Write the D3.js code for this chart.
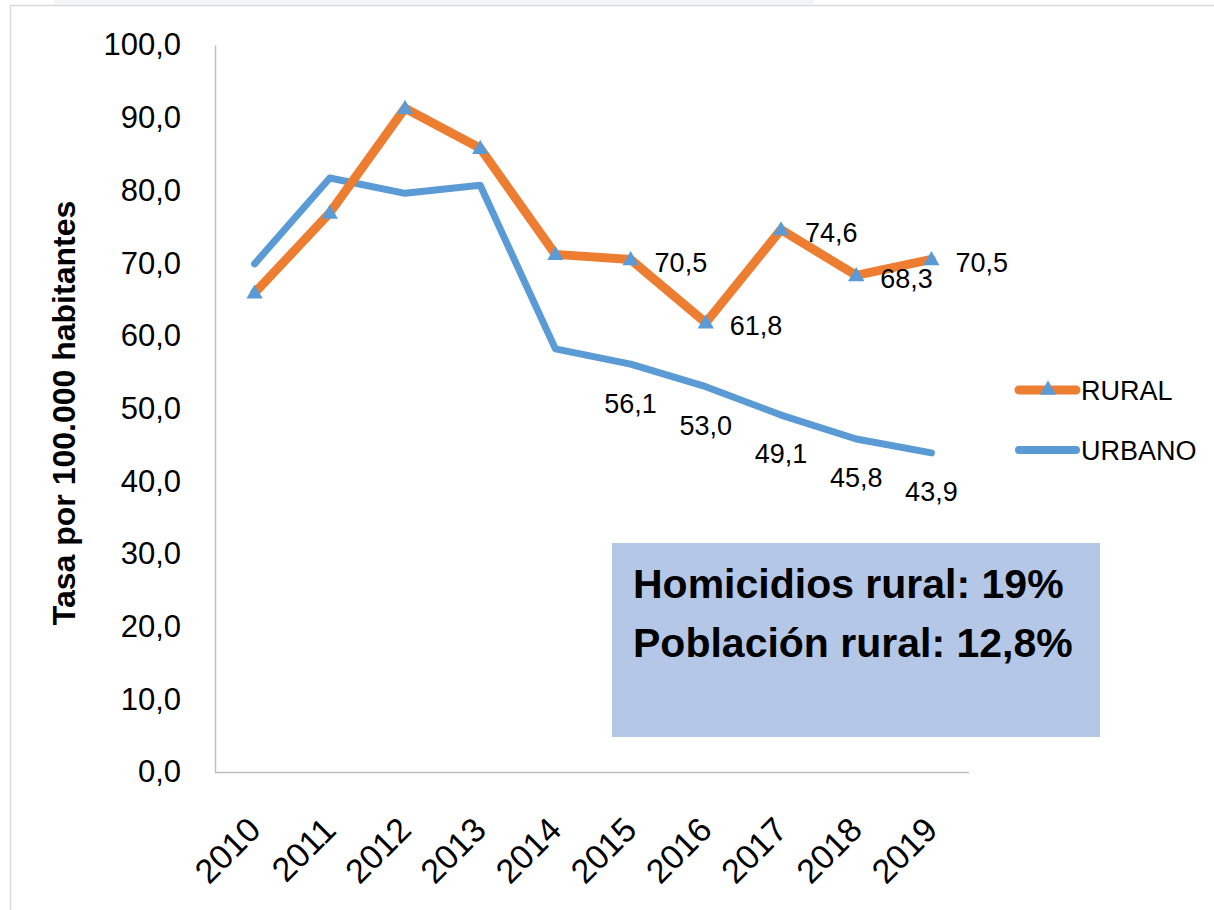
<!DOCTYPE html>
<html>
<head>
<meta charset="utf-8">
<script src="https://cdn.jsdelivr.net/npm/d3@7"></script>
<style>
  html, body { margin: 0; padding: 0; background: #fff; }
  svg { display: block; }
  text { font-family: "Liberation Sans", Arial, sans-serif; fill: #000; }
</style>
</head>
<body>
<svg id="chart" width="1214" height="910"></svg>
<script>
// Homicide rate per 100,000 inhabitants, rural vs urban
const years = ["2010", "2011", "2012", "2013", "2014", "2015", "2016", "2017", "2018", "2019"];
const rural = [65.9, 76.9, 91.3, 85.8, 71.2, 70.5, 61.8, 74.6, 68.3, 70.5];
const urbano = [69.9, 81.7, 79.6, 80.7, 58.2, 56.1, 53.0, 49.1, 45.8, 43.9];
const labelledYears = ["2015", "2016", "2017", "2018", "2019"];
const yTicks = [0, 10, 20, 30, 40, 50, 60, 70, 80, 90, 100];
const seriesNames = ["RURAL", "URBANO"];
const noteLines = ["Homicidios rural: 19%", "Población rural: 12,8%"];
const yTitle = "Tasa por 100.000 habitantes";

const ORANGE = "#ed7d31", BLUE = "#5b9bd5", AXIS = "#bfbfbf";
const svg = d3.select("#chart");

// outer frame
svg.append("rect").attr("x", 54).attr("y", 0).attr("width", 760).attr("height", 4).attr("fill", "#f3f4f6");
svg.append("path").attr("d", "M10.5,912 V5.5 H1216").attr("fill", "none").attr("stroke", "#d9d9d9").attr("stroke-width", 1.5);

const x = d3.scaleBand().domain(years).range([217, 969]);
const y = d3.scaleLinear().domain([0, 100]).range([772, 45]);
const cx = d => x(d) + x.bandwidth() / 2;

// y axis
const yAxis = svg.append("g").attr("transform", "translate(215,0)")
  .call(d3.axisLeft(y).tickValues(yTicks).tickSize(0).tickPadding(34)
    .tickFormat(d => d3.format(".1f")(d).replace(".", ",")));
yAxis.select(".domain").attr("stroke", AXIS).attr("stroke-width", 1.5);
yAxis.selectAll("text").attr("font-size", 31).attr("font-family", "Liberation Sans, Arial, sans-serif").attr("fill", "#000");

// x axis
const xAxis = svg.append("g").attr("transform", "translate(0,772)")
  .call(d3.axisBottom(x).tickSize(0).tickFormat(d => d));
xAxis.select(".domain").attr("stroke", AXIS).attr("stroke-width", 1.5).attr("d", "M215,0.5H969");
xAxis.selectAll(".tick text")
  .attr("font-size", 34).attr("font-family", "Liberation Sans, Arial, sans-serif").attr("fill", "#000")
  .attr("text-anchor", "end").attr("y", 0).attr("dy", 0)
  .attr("transform", "translate(8,60) rotate(-45)");

// y axis title
svg.append("text")
  .attr("transform", "translate(75,413) rotate(-90)")
  .attr("text-anchor", "middle").attr("font-size", 32).attr("font-weight", "bold")
  .text(yTitle);

// lines
const line = vals => d3.line().x((d, i) => cx(years[i])).y(d => y(d))(vals);
svg.append("path").attr("d", line(urbano)).attr("fill", "none").attr("stroke", BLUE)
  .attr("stroke-width", 7).attr("stroke-linejoin", "round").attr("stroke-linecap", "round");
svg.append("path").attr("d", line(rural)).attr("fill", "none").attr("stroke", ORANGE)
  .attr("stroke-width", 9).attr("stroke-linejoin", "round").attr("stroke-linecap", "round");

// triangle markers on the rural series
const tri = d3.symbol().type(d3.symbolTriangle).size(115);
svg.append("g").selectAll("path").data(rural).join("path")
  .attr("d", tri).attr("fill", BLUE)
  .attr("transform", (d, i) => `translate(${cx(years[i])},${y(d) + 1})`);

// data labels
const fmt = v => d3.format(".1f")(v).replace(".", ",");
svg.append("g").selectAll("text").data(years.map((yr, i) => ({ yr, v: rural[i] })).filter(d => labelledYears.includes(d.yr)))
  .join("text").attr("x", d => cx(d.yr) + 24).attr("y", d => y(d.v) + 3).attr("dy", "0.35em")
  .attr("font-size", 27).text(d => fmt(d.v));
svg.append("g").selectAll("text").data(years.map((yr, i) => ({ yr, v: urbano[i] })).filter(d => labelledYears.includes(d.yr)))
  .join("text").attr("x", d => cx(d.yr)).attr("y", d => y(d.v) + 39).attr("dy", "0.35em")
  .attr("text-anchor", "middle").attr("font-size", 27).text(d => fmt(d.v));

// legend
const legend = svg.append("g");
const legendRows = [{ name: seriesNames[0], color: ORANGE, w: 9, marker: true, yy: 390 },
                    { name: seriesNames[1], color: BLUE, w: 8, marker: false, yy: 450 }];
legendRows.forEach(r => {
  legend.append("line").attr("x1", 1019).attr("x2", 1076).attr("y1", r.yy).attr("y2", r.yy)
    .attr("stroke", r.color).attr("stroke-width", r.w).attr("stroke-linecap", "round");
  if (r.marker) legend.append("path").attr("d", tri).attr("fill", BLUE).attr("transform", `translate(1048,${r.yy})`);
  legend.append("text").attr("x", 1081).attr("y", r.yy + 10).attr("font-size", 27).text(r.name);
});

// note box
svg.append("rect").attr("x", 612).attr("y", 543).attr("width", 488).attr("height", 194).attr("fill", "#b4c7e7");
svg.append("g").selectAll("text").data(noteLines).join("text")
  .attr("x", 633).attr("y", (d, i) => 598 + i * 59)
  .attr("font-size", 41).attr("font-weight", "bold").text(d => d);
</script>
</body>
</html>
